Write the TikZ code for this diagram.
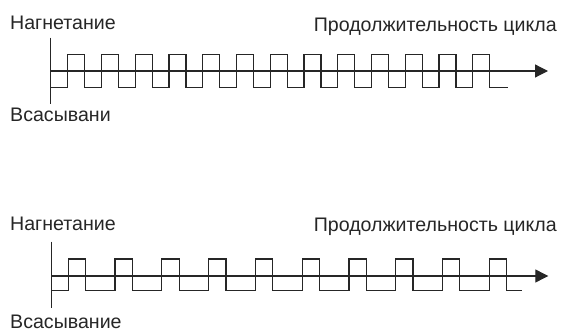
\documentclass[tikz,border=0pt]{standalone}
\usepackage{fontspec}
\setmainfont{Liberation Sans}
\usetikzlibrary{arrows.meta}
\begin{document}
\begin{tikzpicture}[x=1pt,y=-1pt,
  lbl/.style={inner sep=0pt,font=\fontsize{19.6}{22}\selectfont,text=black!85},
  ln/.style={line width=1.2pt,draw=black!85},
  axisarrow/.style={ln,-{Triangle[length=13pt,width=13pt]}}]
\useasboundingbox (0,0) rectangle (562,331);
% ---------- top diagram ----------
\node[lbl,anchor=base west] (t1) at (10,30) {Нагнетание};
\node[lbl,anchor=base east] (t2) at (557,32) {Продолжительность цикла};
\node[lbl,anchor=base west] (t3) at (10,122) {Всасывани};
\coordinate (ta) at (50.7,37.7);
\coordinate (tb) at (50.7,104);
\coordinate (to) at (50.7,71);
\coordinate (te) at (548,71);
\draw[ln] (ta) -- (tb);
\draw[axisarrow] (to) -- (te);
\draw[ln] (50.7,87.7)
  \foreach \k in {0,...,12}{
    -- ({67.7+33.75*\k},87.7) -- ({67.7+33.75*\k},54.3)
    -- ({84.7+33.75*\k},54.3) -- ({84.7+33.75*\k},87.7)
  } -- (508,87.7);
% ---------- bottom diagram ----------
\node[lbl,anchor=base west] (b1) at (10,230.7) {Нагнетание};
\node[lbl,anchor=base east] (b2) at (557,232) {Продолжительность цикла};
\node[lbl,anchor=base west] (b3) at (10,328) {Всасывание};
\coordinate (ba) at (51.7,241.7);
\coordinate (bb) at (51.7,308);
\coordinate (bo) at (51.7,276);
\coordinate (be) at (548.3,276);
\draw[ln] (ba) -- (bb);
\draw[axisarrow] (bo) -- (be);
\draw[ln] (51.7,290.7)
  \foreach \k in {0,...,9}{
    -- ({68.3+46.78*\k},290.7) -- ({68.3+46.78*\k},259)
    -- ({85.6+46.78*\k},259) -- ({85.6+46.78*\k},290.7)
  } -- (521.7,290.7);
\end{tikzpicture}
\end{document}
